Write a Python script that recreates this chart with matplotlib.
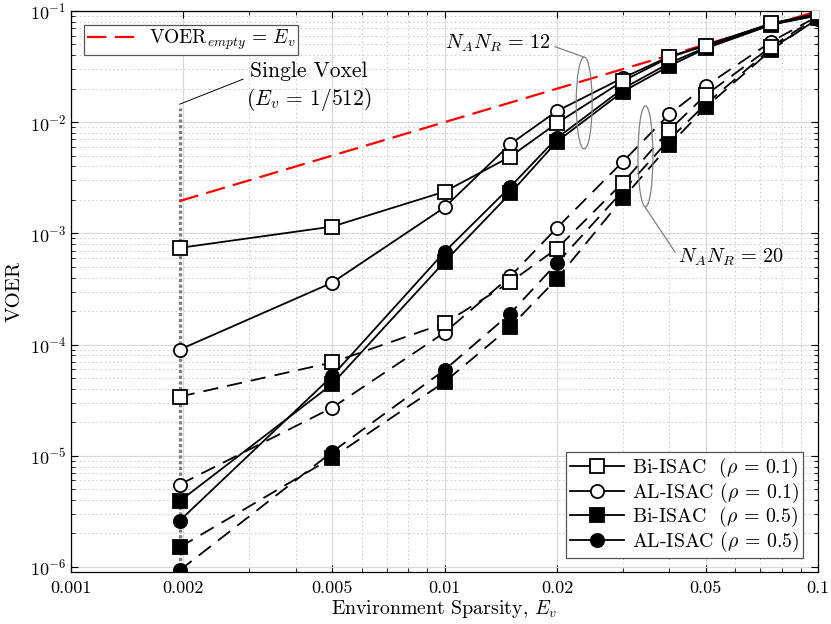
import numpy as np
import matplotlib.pyplot as plt
from matplotlib.patches import Ellipse
from matplotlib.ticker import LogLocator, NullFormatter, FixedLocator, FixedFormatter

plt.rcParams['font.family'] = 'serif'
plt.rcParams['font.serif'] = ['cmr10']
plt.rcParams['mathtext.fontset'] = 'cm'
plt.rcParams['axes.formatter.use_mathtext'] = True
plt.rcParams['lines.scale_dashes'] = False

# environment sparsity values (first point is a single voxel, 1/512)
ev = [1/512, 0.005, 0.01, 0.015, 0.02, 0.03, 0.04, 0.05, 0.075, 0.1]

# N_A N_R = 12 (solid lines)
bi_01_12 = [7.4e-4, 1.15e-3, 2.37e-3, 4.9e-3, 9.8e-3, 0.0234, 0.0383, 0.0488, 0.0775, 0.095]
al_01_12 = [9.0e-5, 3.6e-4, 1.71e-3, 6.35e-3, 0.0126, 0.025, 0.039, 0.049, 0.077, 0.094]
bi_05_12 = [3.9e-6, 4.4e-5, 5.55e-4, 2.29e-3, 6.7e-3, 0.0188, 0.032, 0.046, 0.075, 0.092]
al_05_12 = [2.6e-6, 5.2e-5, 6.8e-4, 2.62e-3, 7.2e-3, 0.020, 0.034, 0.047, 0.076, 0.091]

# N_A N_R = 20 (dashed lines)
bi_01_20 = [3.4e-5, 6.9e-5, 1.55e-4, 3.65e-4, 7.3e-4, 2.85e-3, 8.5e-3, 0.0175, 0.0477, 0.089]
al_01_20 = [5.5e-6, 2.7e-5, 1.28e-4, 4.1e-4, 1.12e-3, 4.4e-3, 0.0118, 0.0211, 0.053, 0.09]
bi_05_20 = [1.5e-6, 9.6e-6, 4.6e-5, 1.44e-4, 3.9e-4, 2.06e-3, 6.2e-3, 0.0136, 0.0446, 0.086]
al_05_20 = [9.3e-7, 1.08e-5, 5.9e-5, 1.9e-4, 5.4e-4, 2.4e-3, 7.0e-3, 0.0145, 0.046, 0.085]

xticks = [0.001, 0.002, 0.005, 0.01, 0.02, 0.05, 0.1]
xticklabels = ['0.001', '0.002', '0.005', '0.01', '0.02', '0.05', '0.1']

labels = [r'Bi-ISAC  ($\rho \,=\, 0.1$)', r'AL-ISAC ($\rho \,=\, 0.1$)',
          r'Bi-ISAC  ($\rho \,=\, 0.5$)', r'AL-ISAC ($\rho \,=\, 0.5$)']

fig = plt.figure(figsize=(8.31, 6.24), dpi=100)
ax = fig.add_axes([71/831, 52/624, 747/831, 561/624])
ax.set_xscale('log')
ax.set_yscale('log')
ax.set_xlim(0.001, 0.1)
ax.set_ylim(9e-7, 0.1)

# grid
ax.grid(True, which='major', color='#d9d9d9', lw=0.9, ls='-')
ax.grid(True, which='minor', color='#c4c4c4', lw=0.7, ls=(0, (1, 2)))
ax.set_axisbelow(True)

# single voxel marker line
ax.plot([1/512, 1/512], [9e-7, 1.35e-2], color='#808080', lw=2.4,
        dashes=(2.3, 1.8), zorder=1.5)

# empty environment reference
red, = ax.plot(ev, ev, color='red', lw=1.6, dashes=(14, 6), zorder=2)

ms = 9.5
mew = 1.3
styles = [('s', 'white'), ('o', 'white'), ('s', 'black'), ('o', 'black')]
dashed = [bi_01_20, al_01_20, bi_05_20, al_05_20]
solid = [bi_01_12, al_01_12, bi_05_12, al_05_12]
order = [3, 2, 1, 0]

for i in order:
    m, fc = styles[i]
    ax.plot(ev, dashed[i], color='black', lw=1.3, dashes=(11, 6.5),
            marker=m, ms=ms, mfc=fc, mec='black', mew=mew, zorder=3)
handles = {}
for i in order:
    m, fc = styles[i]
    h, = ax.plot(ev, solid[i], color='black', lw=1.3, ls='-',
                 marker=m, ms=ms, mfc=fc, mec='black', mew=mew, zorder=4)
    handles[i] = h

# ticks
ax.xaxis.set_major_locator(FixedLocator(xticks))
ax.xaxis.set_major_formatter(FixedFormatter(xticklabels))
ax.xaxis.set_minor_locator(LogLocator(base=10, subs=np.arange(2, 10)))
ax.xaxis.set_minor_formatter(NullFormatter())
ax.yaxis.set_major_locator(LogLocator(base=10, numticks=10))
ax.yaxis.set_minor_locator(LogLocator(base=10, subs=np.arange(2, 10), numticks=10))
ax.yaxis.set_minor_formatter(NullFormatter())
ax.tick_params(which='both', direction='in', top=True, right=True, labelsize=13)
ax.tick_params(axis='x', pad=6)
ax.tick_params(which='major', length=5, width=0.8)
ax.tick_params(which='minor', length=3, width=0.6)
for s in ax.spines.values():
    s.set_linewidth(0.9)

ax.set_xlabel(r'Environment Sparsity, $E_v$', fontsize=14.3, labelpad=2)
ax.set_ylabel('VOER', fontsize=15, labelpad=4)

# legends
leg1 = ax.legend([red], [r'VOER$_{empty} \,=\, E_v$'], loc='upper left',
                 bbox_to_anchor=(0.0174, 0.975), borderaxespad=0, fontsize=14,
                 fancybox=False, edgecolor='#555555', framealpha=1,
                 handlelength=2.6, borderpad=0.15, handletextpad=0.6)
leg1.get_frame().set_linewidth(0.9)
ax.add_artist(leg1)

leg2 = ax.legend([handles[i] for i in range(4)], labels, loc='lower right',
                 bbox_to_anchor=(0.98, 0.025), borderaxespad=0, fontsize=14.3,
                 fancybox=False, edgecolor='#555555', framealpha=1,
                 handlelength=2.7, borderpad=0.2, labelspacing=0.02,
                 handletextpad=0.4)
leg2.get_frame().set_linewidth(0.9)

# annotations
ax.text(0.3186, 0.8645, 'Single Voxel\n' + r'($E_v \,=\, 1/512$)', transform=ax.transAxes,
        ha='center', va='center', fontsize=15.5, linespacing=1.25, multialignment='center')
ax.annotate('', xy=(1/512, 1.45e-2), xytext=(0.00289, 0.0244),
            arrowprops=dict(arrowstyle='-', color='black', lw=0.7, shrinkA=0, shrinkB=0))

ax.add_patch(Ellipse((0.687, 0.836), 0.0214, 0.164, transform=ax.transAxes,
                     fill=False, ec='#808080', lw=0.9, zorder=5))
ax.add_patch(Ellipse((0.769, 0.741), 0.020, 0.180, transform=ax.transAxes,
                     fill=False, ec='#808080', lw=0.9, zorder=5))
ax.plot([0.648, 0.6854], [0.9364, 0.9185], transform=ax.transAxes,
        color='#808080', lw=0.9, zorder=5)
ax.plot([0.7684, 0.8086], [0.6506, 0.5704], transform=ax.transAxes,
        color='#808080', lw=0.9, zorder=5)
ax.text(0.572, 0.943, r'$N_A N_R \,=\, 12$', transform=ax.transAxes,
        ha='center', va='center', fontsize=14.5)
ax.text(0.883, 0.5615, r'$N_A N_R \,=\, 20$', transform=ax.transAxes,
        ha='center', va='center', fontsize=14.5)

fig.savefig('out.png', dpi=100)
